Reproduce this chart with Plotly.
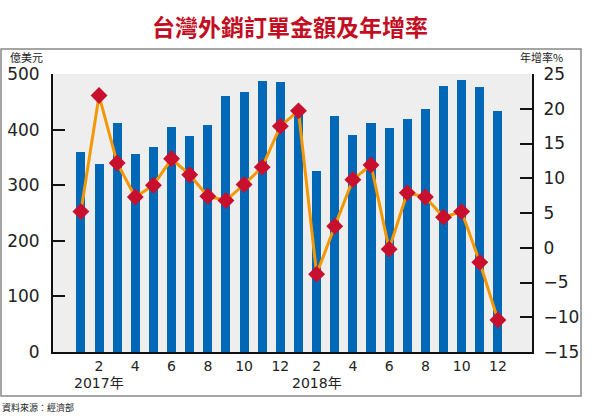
"""
台灣外銷訂單金額及年增率 chart
"""

import plotly.graph_objects as go

# data
months = list(range(1, 13)) * 2
years = ["2017年", "2018年"]
orders = [360, 338, 412, 357, 369, 404, 388, 408, 460, 467, 487, 485,
          434, 325, 424, 391, 412, 403, 419, 437, 479, 490, 477, 434]
growth = [5.2, 21.9, 12.2, 7.3, 9.0, 12.8, 10.5, 7.4, 6.8, 9.1, 11.6, 17.5,
          19.7, -3.8, 3.1, 9.8, 11.9, -0.2, 7.9, 7.3, 4.4, 5.2, -2.1, -10.4]
left_ticks = [0, 100, 200, 300, 400, 500]
right_ticks = [-15, -10, -5, 0, 5, 10, 15, 20, 25]

W, H = 600, 417
L, R, T, B = 53, 532, 74, 352

x_idx = list(range(len(orders)))
tick_idx = [i for i, m in enumerate(months) if m % 2 == 0]
tick_txt = [str(months[i]) for i in tick_idx]


def px_x(p):
    return (p - L) / (R - L)


def px_y(p):
    return (B - p) / (B - T)


fig = go.Figure()

fig.add_trace(go.Bar(
    x=x_idx,
    y=orders,
    width=0.5,
    marker=dict(color="#0068b7", line=dict(width=0)),
    hoverinfo="skip",
))

fig.add_trace(go.Scatter(
    x=x_idx,
    y=growth,
    yaxis="y2",
    mode="lines+markers",
    line=dict(color="#f39800", width=3),
    marker=dict(symbol="diamond", size=13, color="#c8102e"),
))

font = "DejaVu Sans, Noto Sans CJK TC, sans-serif"
cjk = "Noto Sans CJK TC, sans-serif"

fig.update_layout(
    width=W,
    height=H,
    margin=dict(l=L, r=W - R, t=T, b=H - B, pad=0, autoexpand=False),
    paper_bgcolor="white",
    plot_bgcolor="#eeeeee",
    showlegend=False,
    bargap=0,
    title=dict(
        text="<b>台灣外銷訂單金額及年增率</b>",
        font=dict(family=cjk, size=23, color="#c30d23"),
        x=290 / W, xanchor="center",
        y=1 - 28 / H, yanchor="middle",
        automargin=False,
    ),
    xaxis=dict(
        range=[-1.54, 24.88],
        tickvals=tick_idx,
        ticktext=tick_txt,
        ticks="",
        showgrid=False,
        zeroline=False,
        showline=True,
        linecolor="#111",
        linewidth=2,
        automargin=False,
        tickfont=dict(family=font, size=14, color="#222"),
    ),
    yaxis=dict(
        range=[0, 500],
        tickvals=left_ticks,
        ticks="inside",
        ticklen=12,
        tickwidth=2,
        tickcolor="#111",
        showgrid=False,
        zeroline=False,
        showline=True,
        linecolor="#111",
        linewidth=2,
        automargin=False,
        ticklabelstandoff=8,
        tickfont=dict(family=font, size=17, color="#222"),
    ),
    yaxis2=dict(
        range=[-15, 25],
        tickvals=right_ticks,
        overlaying="y",
        side="right",
        ticks="inside",
        ticklen=12,
        tickwidth=2,
        tickcolor="#111",
        showgrid=False,
        zeroline=False,
        showline=True,
        linecolor="#111",
        linewidth=2,
        automargin=False,
        ticklabelstandoff=6,
        tickfont=dict(family=font, size=17, color="#222"),
    ),
)

# outer frame
fig.add_shape(
    type="rect", xref="paper", yref="paper",
    x0=px_x(1), x1=px_x(581), y0=px_y(396), y1=px_y(49),
    line=dict(color="#888", width=1.5), layer="below",
)

# year labels under February of each year
for k, yr in enumerate(years):
    fig.add_annotation(
        x=k * 12 + 1, y=px_y(383), xref="x", yref="paper",
        xanchor="center", yanchor="middle",
        text=yr, showarrow=False,
        font=dict(family=font, size=14, color="#222"),
    )

# axis unit labels and source
fig.add_annotation(
    x=px_x(26), y=px_y(57), xref="paper", yref="paper",
    xanchor="center", yanchor="middle",
    text="億美元", showarrow=False,
    font=dict(family=cjk, size=11, color="#222"),
)
fig.add_annotation(
    x=px_x(541), y=px_y(57), xref="paper", yref="paper",
    xanchor="center", yanchor="middle",
    text="年增率%", showarrow=False,
    font=dict(family=cjk, size=11, color="#222"),
)
fig.add_annotation(
    x=px_x(0), y=px_y(407), xref="paper", yref="paper",
    xanchor="left", yanchor="middle",
    text="資料來源：經濟部", showarrow=False,
    font=dict(family=cjk, size=9, color="#222"),
)

# drop the browser's default body margin so the figure sits at 0,0
fig.write_html(
    "out.html",
    config={"displayModeBar": False},
    post_script="document.body.style.margin='0';",
)
